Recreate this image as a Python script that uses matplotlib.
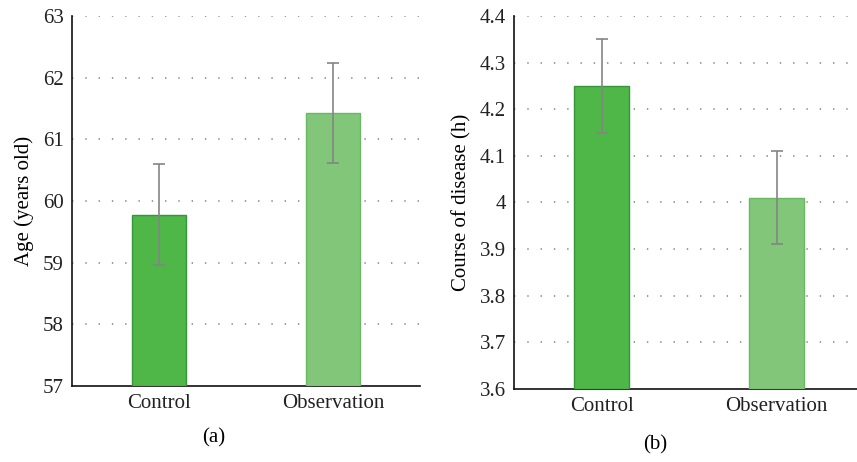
import matplotlib
matplotlib.use('Agg')
import matplotlib.pyplot as plt

plt.rcParams['font.family'] = ['Liberation Serif', 'DejaVu Serif']
plt.rcParams['font.size'] = 15

# Dados
grupos = ['Control', 'Observation']
idade_media = [59.78, 61.42]
idade_erro = [0.82, 0.81]
curso_media = [4.25, 4.01]
curso_erro = [0.10, 0.10]

cores = ['#4eb748', '#82c67a']
bordas = ['#36953a', '#6bb863']


def painel(ax, medias, erros, ylim, yticks, yticklabels, ylabel, xmax):
    x = range(len(grupos))
    ax.bar(x, [m - ylim[0] for m in medias], bottom=ylim[0], width=0.31,
           color=cores, edgecolor=bordas, linewidth=1, zorder=3)
    ax.errorbar(x, medias, yerr=erros, fmt='none', ecolor='#858585',
                elinewidth=1.2, capsize=4.3, capthick=1.2, zorder=4)
    ax.set_xlim(-0.5, xmax)
    ax.set_ylim(*ylim)
    ax.set_yticks(yticks)
    ax.set_yticklabels(yticklabels)
    ax.set_xticks(list(x))
    ax.set_xticklabels(grupos)
    ax.set_ylabel(ylabel, labelpad=6)
    for y in yticks[1:]:
        ax.axhline(y, color='#808080', linestyle=(0, (0.9, 7.8)), linewidth=1.1, zorder=1)
    ax.tick_params(length=0, pad=6, colors='#222222')
    for s in ['top', 'right']:
        ax.spines[s].set_visible(False)
    for s in ['left', 'bottom']:
        ax.spines[s].set_color('#111111')
        ax.spines[s].set_linewidth(1.2)


fig = plt.figure(figsize=(8.57, 4.62), dpi=100)
ax1 = fig.add_axes([0.084, 0.1645, 0.406, 0.801])
ax2 = fig.add_axes([0.5998, 0.158, 0.4002, 0.8074])

painel(ax1, idade_media, idade_erro, (57, 63), [57, 58, 59, 60, 61, 62, 63],
       ['57', '58', '59', '60', '61', '62', '63'], 'Age (years old)', 1.5)
painel(ax2, curso_media, curso_erro, (3.6, 4.4),
       [3.6, 3.7, 3.8, 3.9, 4.0, 4.1, 4.2, 4.3, 4.4],
       ['3.6', '3.7', '3.8', '3.9', '4', '4.1', '4.2', '4.3', '4.4'],
       'Course of disease (h)', 1.46)

fig.text(214 / 857, 1 - 438 / 462, '(a)', ha='center', va='center', fontsize=15)
fig.text(655 / 857, 1 - 445 / 462, '(b)', ha='center', va='center', fontsize=15)

fig.savefig('out.png', dpi=100)
